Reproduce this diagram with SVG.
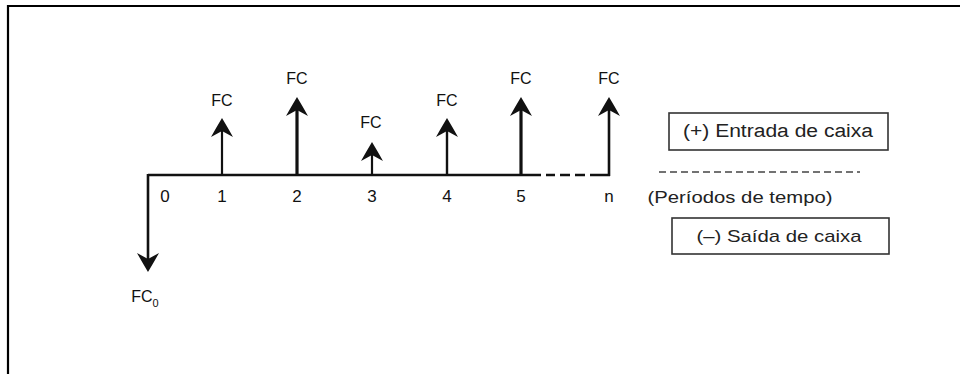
<svg xmlns="http://www.w3.org/2000/svg" width="960" height="374" viewBox="0 0 960 374">
<style>
  .frame{fill:none;stroke:#000;stroke-width:2.2}
  .axis{fill:none;stroke:#111;stroke-width:2.6}
  .stem{fill:none;stroke:#111}
  .lbl{font-family:"Liberation Sans",Arial,sans-serif;font-size:16px;fill:#111;text-anchor:middle}
  .num{font-family:"Liberation Sans",Arial,sans-serif;font-size:17px;fill:#111;text-anchor:middle}
  .side{font-family:"Liberation Sans",Arial,sans-serif;fill:#222;text-anchor:middle}
  .box{fill:#fff;stroke:#333;stroke-width:1.6}
</style>
<defs>
  <marker id="head" viewBox="0 0 19 22" markerUnits="userSpaceOnUse" markerWidth="19" markerHeight="22" refX="6" refY="11" orient="auto">
    <path d="M19,11 Q9,5 0,0 L6,11 L0,22 Q9,17 19,11 Z" fill="#111"/>
  </marker>
</defs>
<rect width="960" height="374" fill="#fff"/>
<g id="frame">
  <path class="frame" d="M8,374 L8,6 L960,6"/>
</g>
<g id="connectors">
  <path class="axis" d="M148,175 L541,175"/>
  <path class="axis" d="M546,175 L610,175" stroke-dasharray="9 5 10 5 10 5 20"/>
  <path class="stem" stroke-width="2.6" d="M148,174 L148,259" marker-end="url(#head)"/>
  <path class="stem" stroke-width="2.2" d="M222,175 L222,131" marker-end="url(#head)"/>
  <path class="stem" stroke-width="3.2" d="M297,175 L297,110" marker-end="url(#head)"/>
  <path class="stem" stroke-width="2.2" d="M372,175 L372,155" marker-end="url(#head)"/>
  <path class="stem" stroke-width="2.4" d="M447,175 L447,131" marker-end="url(#head)"/>
  <path class="stem" stroke-width="3.2" d="M521,175 L521,110" marker-end="url(#head)"/>
  <path class="stem" stroke-width="2.6" d="M609,176 L609,110" marker-end="url(#head)"/>
  <path d="M659,172 L860,172" fill="none" stroke="#444" stroke-width="1.5" stroke-dasharray="7 4"/>
</g>
<g id="p0">
  <text class="num" x="165" y="202">0</text>
  <text class="lbl" x="145" y="302">FC<tspan font-size="11" dy="5">0</tspan></text>
</g>
<g id="p1">
  <text class="num" x="222" y="202">1</text>
  <text class="lbl" x="222" y="106">FC</text>
</g>
<g id="p2">
  <text class="num" x="297" y="202">2</text>
  <text class="lbl" x="297" y="84">FC</text>
</g>
<g id="p3">
  <text class="num" x="372" y="202">3</text>
  <text class="lbl" x="371" y="128">FC</text>
</g>
<g id="p4">
  <text class="num" x="447" y="202">4</text>
  <text class="lbl" x="447" y="106">FC</text>
</g>
<g id="p5">
  <text class="num" x="521" y="202">5</text>
  <text class="lbl" x="521" y="84">FC</text>
</g>
<g id="pn">
  <text class="num" x="609" y="202">n</text>
  <text class="lbl" x="609" y="84">FC</text>
</g>
<g id="entrada">
  <rect class="box" x="669" y="113" width="219" height="37"/>
  <text class="side" x="778" y="137" font-size="18" textLength="190" lengthAdjust="spacingAndGlyphs">(+) Entrada de caixa</text>
</g>
<g id="periodos">
  <text class="side" x="740" y="203" font-size="17" textLength="185" lengthAdjust="spacingAndGlyphs">(Períodos de tempo)</text>
</g>
<g id="saida">
  <rect class="box" x="672" y="218" width="217" height="36"/>
  <text class="side" x="779" y="242" font-size="17" textLength="165" lengthAdjust="spacingAndGlyphs">(–) Saída de caixa</text>
</g>
</svg>
